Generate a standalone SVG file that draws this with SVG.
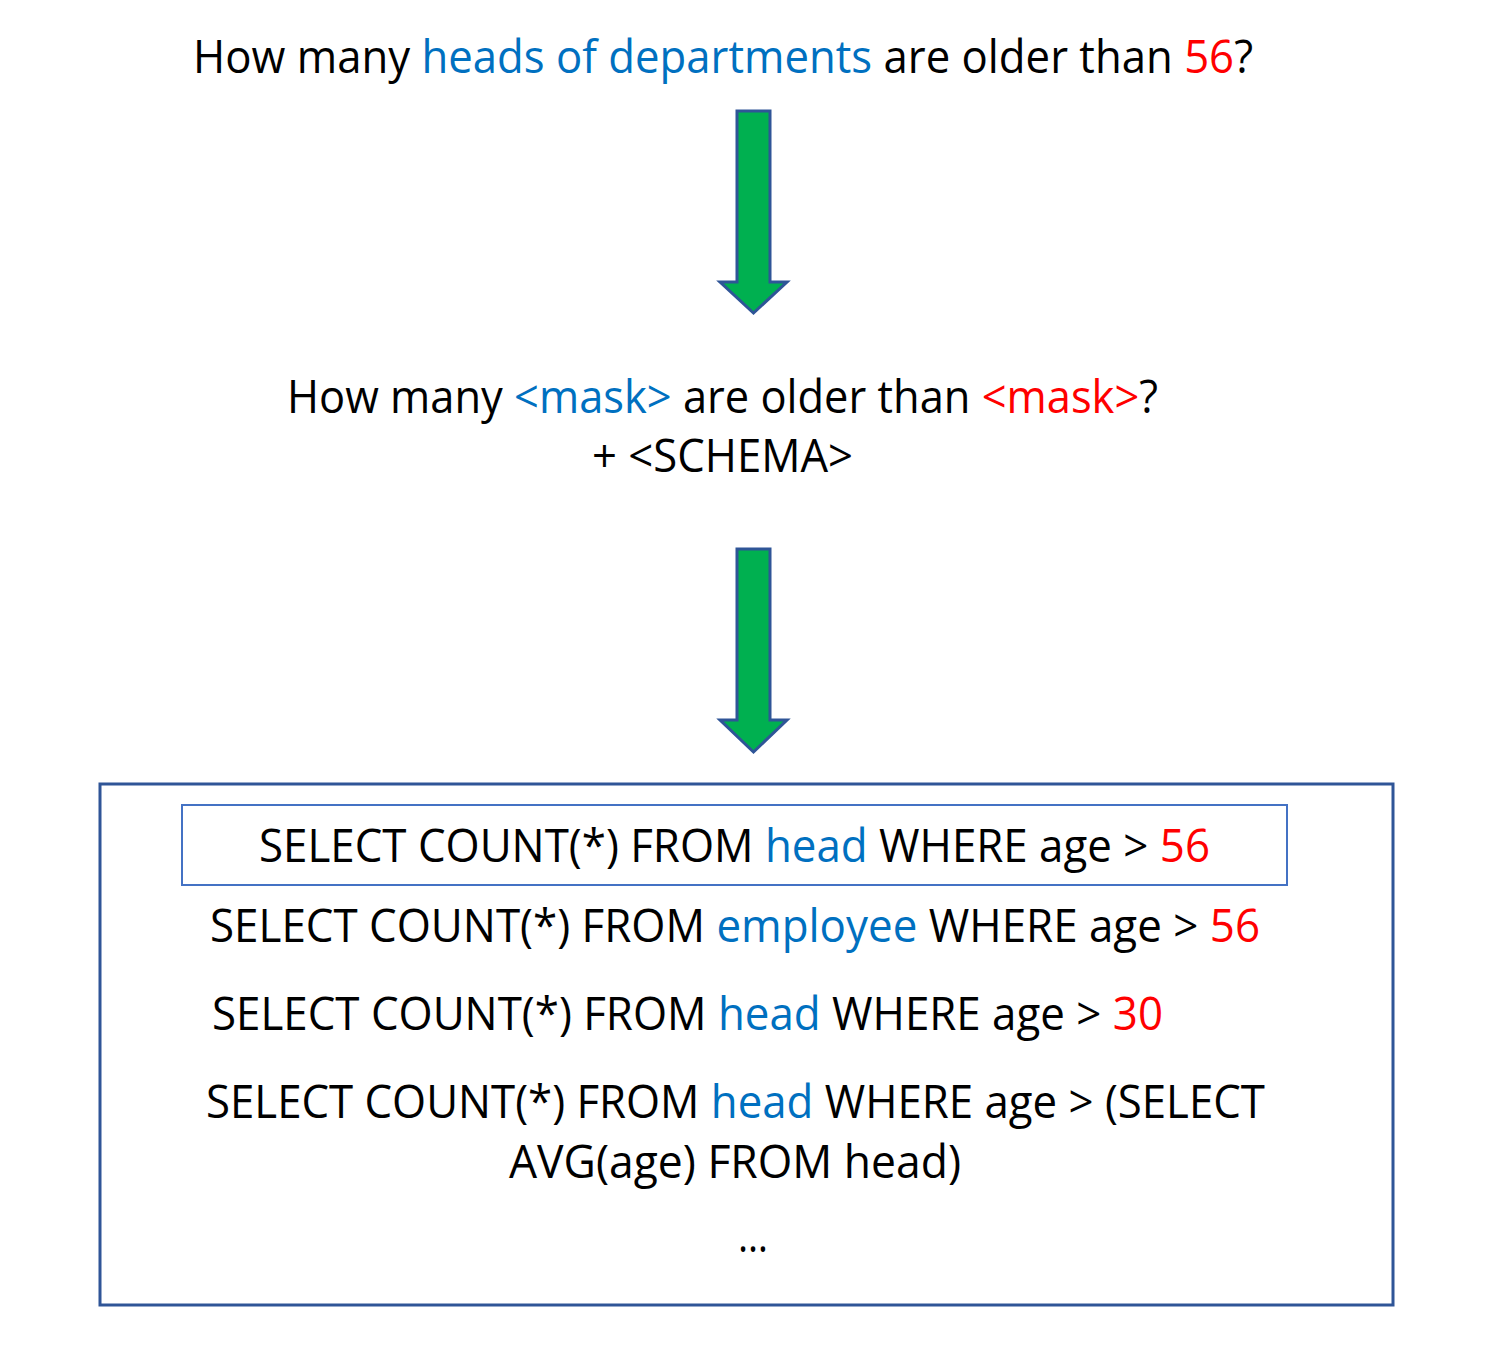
<svg xmlns="http://www.w3.org/2000/svg" width="1490" height="1360" viewBox="0 0 1490 1360">
<style>
text{font-family:"Open Sans","Noto Sans","Liberation Sans",sans-serif;font-size:45px;fill:#000}
.b{fill:#0070C0}
.r{fill:#FF0000}
.arrow{fill:#00B050;stroke:#2F5597;stroke-width:3;stroke-linejoin:miter}
.outer{fill:none;stroke:#2F5597;stroke-width:3}
.inner{fill:none;stroke:#4472C4;stroke-width:2}
</style>
<rect width="1490" height="1360" fill="#fff"/>
<g id="question">
<text x="193" y="73" textLength="1060" lengthAdjust="spacingAndGlyphs">How many <tspan class="b">heads of departments</tspan> are older than <tspan class="r">56</tspan>?</text>
</g>
<g id="masked">
<text x="287" y="413" textLength="871" lengthAdjust="spacingAndGlyphs">How many <tspan class="b">&lt;mask&gt;</tspan> are older than <tspan class="r">&lt;mask&gt;</tspan>?</text>
<text x="592" y="472" textLength="261" lengthAdjust="spacingAndGlyphs">+ &lt;SCHEMA&gt;</text>
</g>
<g id="connectors">
<path class="arrow" d="M737,111 H770 V282 H787 L753.5,313 L720,282 H737 Z"/>
<path class="arrow" d="M737,549 H770 V720 H787 L753.5,752 L720,720 H737 Z"/>
</g>
<g id="candidates">
<rect class="outer" x="100" y="784" width="1293" height="521"/>
<rect class="inner" x="182" y="805" width="1105" height="80"/>
<text x="259" y="862" textLength="951" lengthAdjust="spacingAndGlyphs">SELECT COUNT(*) FROM <tspan class="b">head</tspan> WHERE age &gt; <tspan class="r">56</tspan></text>
<text x="210" y="942" textLength="1050" lengthAdjust="spacingAndGlyphs">SELECT COUNT(*) FROM <tspan class="b">employee</tspan> WHERE age &gt; <tspan class="r">56</tspan></text>
<text x="212" y="1030" textLength="951" lengthAdjust="spacingAndGlyphs">SELECT COUNT(*) FROM <tspan class="b">head</tspan> WHERE age &gt; <tspan class="r">30</tspan></text>
<text x="206" y="1118" textLength="1059" lengthAdjust="spacingAndGlyphs">SELECT COUNT(*) FROM <tspan class="b">head</tspan> WHERE age &gt; (SELECT</text>
<text x="509" y="1178" textLength="452" lengthAdjust="spacingAndGlyphs">AVG(age) FROM head)</text>
<text x="738" y="1252" textLength="30" lengthAdjust="spacingAndGlyphs">…</text>
</g>
</svg>
